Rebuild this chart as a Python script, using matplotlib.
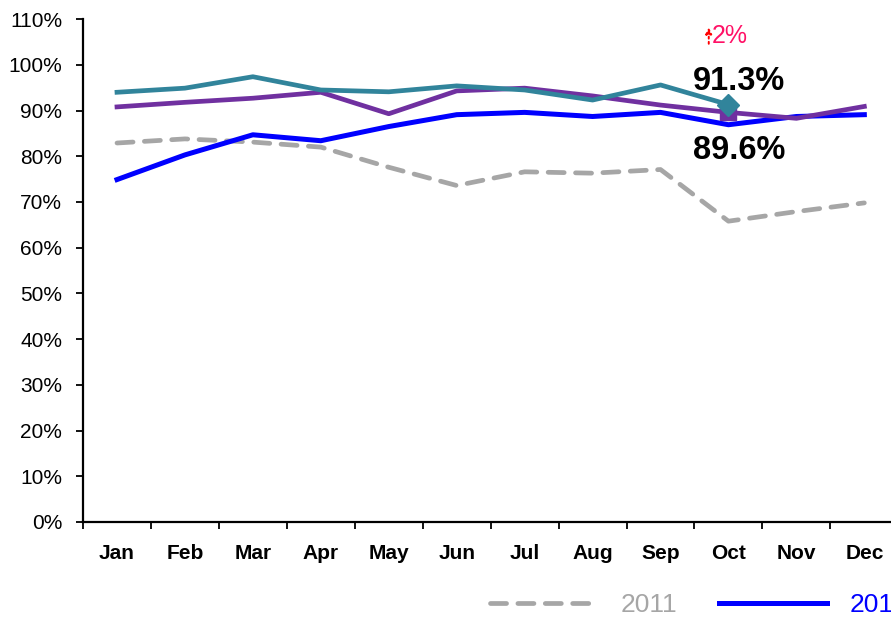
import matplotlib.pyplot as plt
from matplotlib.ticker import FixedLocator, NullFormatter

plt.rcParams["font.family"] = ["Liberation Sans", "DejaVu Sans"]

months = ["Jan", "Feb", "Mar", "Apr", "May", "Jun",
          "Jul", "Aug", "Sep", "Oct", "Nov", "Dec"]
s2011 = [82.9, 83.8, 83.1, 82.0, 77.6, 73.6, 76.6, 76.3, 77.1, 65.8, 67.9, 69.8]
s2012 = [74.9, 80.3, 84.7, 83.4, 86.5, 89.1, 89.6, 88.7, 89.6, 86.9, 88.7, 89.1]
s2013 = [90.8, 91.8, 92.7, 94.0, 89.3, 94.3, 94.9, 93.2, 91.2, 89.6, 88.3, 90.9]
s2014 = [94.0, 94.9, 97.4, 94.5, 94.1, 95.4, 94.5, 92.3, 95.6, 91.3]
yticks = list(range(0, 111, 10))

x = list(range(len(months)))

fig = plt.figure(figsize=(8.91, 6.17), dpi=100)
ax = fig.add_axes([0.0932, 0.154, 0.915, 0.815])

ax.plot(x, s2011, color="#A6A6A6", lw=3.4, dashes=(3.4, 2.4),
        dash_capstyle="round", label="2011", zorder=2)
ax.plot(x, s2012, color="#0000FF", lw=3.6, label="2012", zorder=3)
ax.plot(x, s2013, color="#7030A0", lw=3.4, marker="s", ms=11,
        markevery=[9], label="2013", zorder=4)
ax.plot(x[:len(s2014)], s2014, color="#31849B", lw=3.4, marker="D", ms=11,
        markevery=[9], label="2014", zorder=5)

ax.text(9.16, s2014[9] + 5.0, "91.3%", fontsize=23.5, fontweight="bold",
        ha="center", va="center")
ax.text(9.16, s2013[9] - 8.3, "89.6%", fontsize=23.5, fontweight="bold",
        ha="center", va="center")
ax.annotate("", xy=(8.71, 108.8), xytext=(8.71, 104.0),
            arrowprops=dict(arrowstyle="-|>", color="#FF0000", lw=1.4,
                            ls=":", mutation_scale=9))
ax.text(8.76, 106.2, "2%", fontsize=18, color="#FF1166",
        ha="left", va="center")

ax.set_xlim(-0.5, 11.5)
ax.set_ylim(0, 110)
ax.set_yticks(yticks)
ax.set_yticklabels([f"{v}%" for v in yticks], fontsize=15)
ax.xaxis.set_major_locator(FixedLocator([i - 0.5 for i in range(13)]))
ax.xaxis.set_major_formatter(NullFormatter())
ax.xaxis.set_minor_locator(FixedLocator(x))
ax.set_xticklabels(months, minor=True, fontsize=15, fontweight="bold")
ax.tick_params(axis="x", which="major", length=5, width=1.3, direction="out")
ax.tick_params(axis="x", which="minor", length=0, pad=16)
ax.tick_params(axis="y", length=5, width=1.3, direction="out", pad=10)

for side in ("top", "right"):
    ax.spines[side].set_visible(False)
for side in ("left", "bottom"):
    ax.spines[side].set_linewidth(1.6)

handles, labels = ax.get_legend_handles_labels()
leg = fig.legend(handles, labels, loc="center left",
                 bbox_to_anchor=(0.523, 0.0194), ncol=4, frameon=False,
                 fontsize=19, handlelength=4.1, handletextpad=0.85,
                 columnspacing=1.6)
for txt, h in zip(leg.get_texts(), handles):
    txt.set_color(h.get_color())
for lh in leg.get_lines():
    lh.set_marker("")

fig.savefig("out.png", dpi=100)
